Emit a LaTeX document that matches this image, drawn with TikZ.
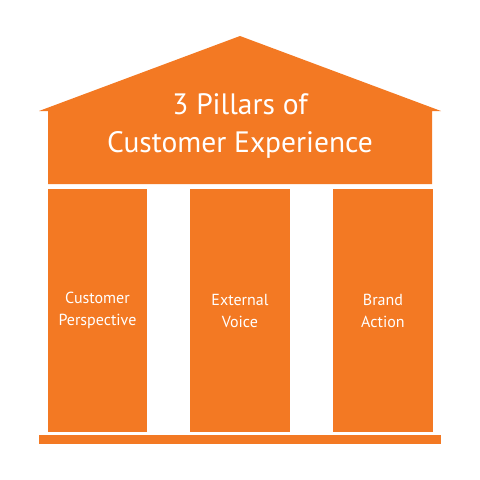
\documentclass[tikz,border=0pt]{standalone}
\usepackage{fontspec}
\setmainfont{PT Sans}
\usepackage{tikz}
\usepackage{xcolor}
\definecolor{cx-orange}{RGB}{243,121,35}
\tikzset{
    pillar-box/.style = {fill=cx-orange, text=white, rectangle, anchor=north west, inner sep=0pt, minimum width=99.5pt, minimum height=243pt, align=center, font=\fontsize{16}{22}\selectfont},
    roof-title/.style = {text=white, align=center, font=\fontsize{29.5}{38}\selectfont},
}

\begin{document}
\begin{tikzpicture}[x=1pt, y=-1pt]
\useasboundingbox (0,0) rectangle (480,480);
% roof
\fill[cx-orange] (39,111) -- (240,36) -- (441,111) -- (432,111) -- (432,184) -- (48,184) -- (48,111) -- cycle;
\node[roof-title] (title) at (240,126) {3 Pillars of\\Customer Experience};
% pillars
\node[pillar-box] (customer) at (47.5,189) {Customer\\Perspective};
\node[pillar-box] (voice) at (190,189) {External\\Voice};
\node[pillar-box] (brand) at (333,189) {Brand\\Action};
% base
\fill[cx-orange] (39,435) rectangle (441,443.5);
\end{tikzpicture}
\end{document}
